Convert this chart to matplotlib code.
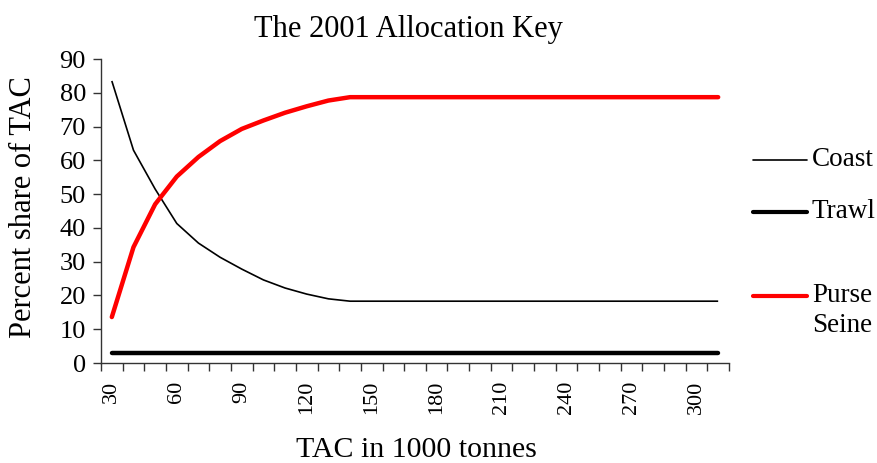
import matplotlib
matplotlib.use("Agg")
import matplotlib.pyplot as plt
from matplotlib.lines import Line2D

plt.rcParams['font.family'] = ['Liberation Serif', 'DejaVu Serif']

tac = [30, 40, 50, 60, 70, 80, 90, 100, 110, 120, 130, 140, 150, 160, 170,
       180, 190, 200, 210, 220, 230, 240, 250, 260, 270, 280, 290, 300, 310]
coast = [83.5, 63.0, 51.5, 41.3, 35.5, 31.3, 27.8, 24.6, 22.2, 20.4, 19.0, 18.3,
         18.3, 18.3, 18.3, 18.3, 18.3, 18.3, 18.3, 18.3, 18.3, 18.3, 18.3, 18.3,
         18.3, 18.3, 18.3, 18.3, 18.3]
trawl = [3.0] * 29
purse = [13.6, 34.3, 47.0, 55.2, 61.0, 65.7, 69.3, 71.8, 74.1, 76.0, 77.7, 78.7,
         78.7, 78.7, 78.7, 78.7, 78.7, 78.7, 78.7, 78.7, 78.7, 78.7, 78.7, 78.7,
         78.7, 78.7, 78.7, 78.7, 78.7]
x_labels = [30, 60, 90, 120, 150, 180, 210, 240, 270, 300]
series_names = ["Coast", "Trawl", "Purse\nSeine"]

W, H = 877, 463
fig = plt.figure(figsize=(W / 100, H / 100), dpi=100)
ax = fig.add_axes([101 / W, (H - 363) / H, (729 - 101) / W, (363 - 59) / H])

idx = list(range(len(tac)))
ax.plot(idx, coast, color='black', lw=1.2, solid_capstyle='butt')
ax.plot(idx, trawl, color='black', lw=3.2, solid_capstyle='round')
ax.plot(idx, purse, color='#ff0000', lw=3.2, solid_capstyle='round',
        solid_joinstyle='round')

ax.set_xlim(-0.5, len(tac) - 0.5)
ax.set_ylim(0, 90)
ax.set_yticks(range(0, 91, 10))
ax.tick_params(axis='y', labelsize=19, length=5.8, width=1, direction='out', pad=5)

# category boundaries as tick marks; labels centered in categories
ax.set_xticks([i - 0.5 for i in range(len(tac) + 1)])
ax.set_xticklabels([])
ax.set_xticks([tac.index(v) for v in x_labels], minor=True)
ax.set_xticklabels([str(v) for v in x_labels], minor=True, rotation=90)
ax.tick_params(axis='x', which='major', length=5.8, width=1, direction='out')
ax.tick_params(axis='x', which='minor', length=0, labelsize=16, pad=13)

for s in ['top', 'right']:
    ax.spines[s].set_visible(False)
for s in ['left', 'bottom']:
    ax.spines[s].set_linewidth(1)
    ax.spines[s].set_color('#333333')
ax.tick_params(colors='#333333', labelcolor='black', which='both')

fig.text(408 / W, 1 - 29 / H, "The 2001 Allocation Key", ha='center', va='center', fontsize=22)
fig.text(24 / W, 1 - 207 / H, "Percent share of TAC", ha='center', va='center',
         rotation=90, fontsize=22)
fig.text(416 / W, 1 - 450 / H, "TAC in 1000 tonnes", ha='center', va='center', fontsize=21.5)

# legend
leg_y = [160, 212, 296]
leg_styles = [dict(color='black', lw=1.2), dict(color='black', lw=3.0),
              dict(color='#ff0000', lw=3.0)]
for name, y, st in zip(series_names, leg_y, leg_styles):
    fig.add_artist(Line2D([753 / W, 807 / W], [1 - y / H, 1 - y / H],
                          transform=fig.transFigure, solid_capstyle='round', **st))
    lines = name.split("\n")
    for k, ln in enumerate(lines):
        fig.text(812 / W, 1 - (y + 29 * k) / H, ln, ha='left', va='center', fontsize=19.5)

fig.savefig("out.png", dpi=100)
